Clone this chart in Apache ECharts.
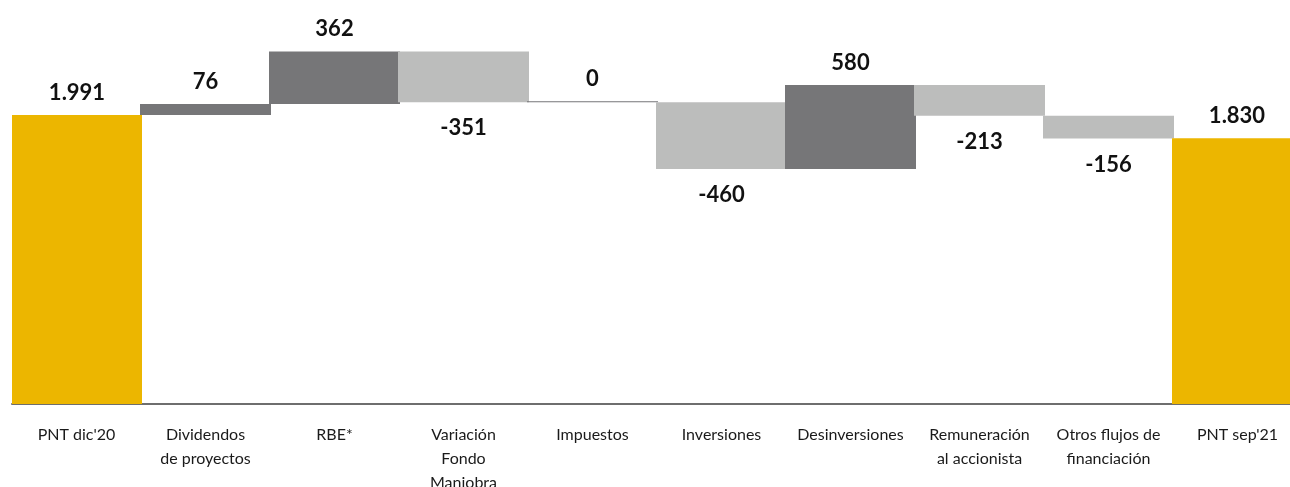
<!DOCTYPE html>
<html>
<head>
<meta charset="utf-8">
<script src="https://cdn.jsdelivr.net/npm/echarts@6/dist/echarts.min.js"></script>
<style>
html,body{margin:0;padding:0;background:#fff;overflow:hidden;}
#chart{width:1290px;height:487px;}
</style>
</head>
<body>
<div id="chart"></div>
<script>
const categories = ["PNT dic'20", "Dividendos\nde proyectos", "RBE*", "Variación\nFondo\nManiobra", "Impuestos", "Inversiones", "Desinversiones", "Remuneración\nal accionista", "Otros flujos de\nfinanciación", "PNT sep'21"];
const values = [1991, 76, 362, -351, 0, -460, 580, -213, -156, 1830];
const isTotal = [true, false, false, false, false, false, false, false, false, true];

const YELLOW = '#ecb600', DARK = '#767678', LIGHT = '#bcbdbc';

function fmt(v) {
  const s = Math.abs(v).toString().replace(/\B(?=(\d{3})+(?!\d))/g, '.');
  return (v < 0 ? '-' : '') + s;
}

const base = [], body = [];
let running = 0;
values.forEach((v, i) => {
  if (isTotal[i]) {
    base.push(0);
    body.push({ value: v, raw: v, itemStyle: { color: YELLOW }, label: { position: 'top', distance: 11 } });
    running = v;
  } else if (v >= 0) {
    base.push(running);
    body.push({ value: v, raw: v, itemStyle: { color: DARK }, label: { position: 'top', distance: 11 } });
    running += v;
  } else {
    base.push(running + v);
    body.push({ value: -v, raw: v, itemStyle: { color: LIGHT }, label: { position: 'bottom', distance: 15 } });
    running += v;
  }
});

const chart = echarts.init(document.getElementById('chart'), null, { renderer: 'canvas' });
chart.setOption({
  animation: false,
  backgroundColor: '#ffffff',
  grid: { left: 12, width: 1290, top: 0, bottom: 83, containLabel: false, outerBoundsMode: 'none' },
  xAxis: {
    type: 'category',
    data: categories,
    axisLine: { lineStyle: { color: '#6e6e6e', width: 2 } },
    axisTick: { show: false },
    axisLabel: {
      interval: 0,
      margin: 19,
      fontFamily: 'Lato',
      fontSize: 16,
      lineHeight: 24,
      color: '#1a1a1a'
    }
  },
  yAxis: {
    type: 'value',
    min: 0,
    max: 2783,
    show: false,
    splitLine: { show: false }
  },
  series: [
    {
      type: 'bar',
      stack: 'wf',
      data: base,
      barWidth: 131,
      itemStyle: { color: 'transparent' },
      emphasis: { disabled: true },
      silent: true
    },
    {
      type: 'bar',
      stack: 'wf',
      data: body,
      barWidth: 131,
      barMinHeight: 1,
      label: {
        show: true,
        fontFamily: 'Lato',
        fontWeight: 'bold',
        fontSize: 22,
        color: '#111111',
        formatter: p => fmt(p.data.raw)
      }
    }
  ]
});
</script>
</body>
</html>
